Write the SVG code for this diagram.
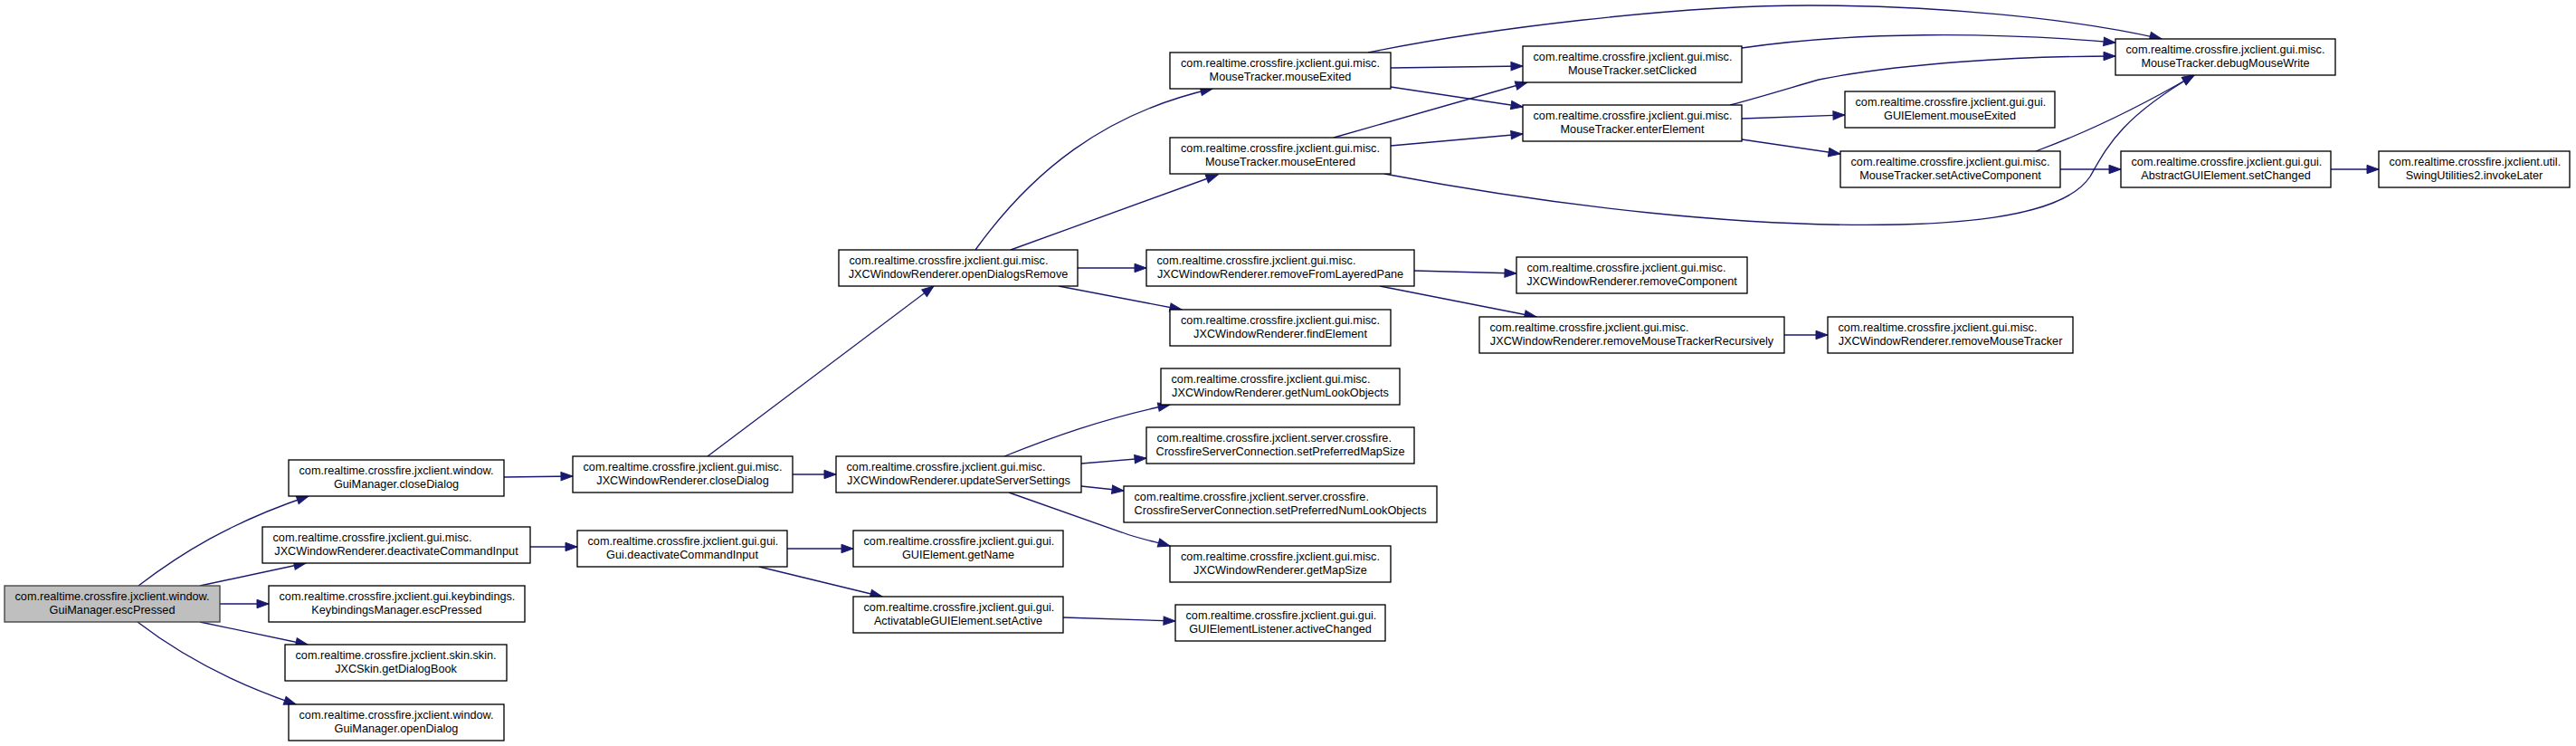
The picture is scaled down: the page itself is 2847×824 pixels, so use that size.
<svg xmlns="http://www.w3.org/2000/svg" width="2847" height="824" viewBox="0 0 2847 824">
<style>
.node rect{fill:#ffffff;stroke:#000000;stroke-width:1.33}
.node.root rect{fill:#bfbfbf;stroke:#404040}
.node text{font-family:"Liberation Sans",Arial,Helvetica,sans-serif;font-size:12.7px;fill:#000000}
.node text.c{text-anchor:middle}
#edges path{fill:none;stroke:#191970;stroke-width:1.33}
</style>
<defs>
<marker id="ah" markerUnits="userSpaceOnUse" markerWidth="15" markerHeight="11" refX="13" refY="5" orient="auto" overflow="visible">
<path d="M0,0.3 L13,5 L0,9.7 z" fill="#191970" stroke="#191970" stroke-width="1"/>
</marker>
</defs>
<rect x="0" y="0" width="2847" height="824" fill="#ffffff"/>
<g id="edges">
<path marker-end="url(#ah)" d="M153,647 C200,611 255,577 341,548"/>
<path marker-end="url(#ah)" d="M221,647 L338,622"/>
<path marker-end="url(#ah)" d="M243,667 L297,667"/>
<path marker-end="url(#ah)" d="M221,687 L340,712"/>
<path marker-end="url(#ah)" d="M152,687 C195,720 250,752 327,778"/>
<path marker-end="url(#ah)" d="M557,527 L633,526"/>
<path marker-end="url(#ah)" d="M586,604 L638,604"/>
<path marker-end="url(#ah)" d="M782,504 L1032,316"/>
<path marker-end="url(#ah)" d="M876,524 L924,524"/>
<path marker-end="url(#ah)" d="M870,606 L943,606"/>
<path marker-end="url(#ah)" d="M839,626 L975,659"/>
<path marker-end="url(#ah)" d="M1175,682 L1299,686"/>
<path marker-end="url(#ah)" d="M1110,504 C1160,484 1220,462 1293,447"/>
<path marker-end="url(#ah)" d="M1195,512 L1267,506"/>
<path marker-end="url(#ah)" d="M1195,537 L1242,542"/>
<path marker-end="url(#ah)" d="M1115,544 L1240,588 C1255,594 1275,598 1293,603"/>
<path marker-end="url(#ah)" d="M1078,276 C1140,190 1220,125 1340,98"/>
<path marker-end="url(#ah)" d="M1117,276 L1346,193"/>
<path marker-end="url(#ah)" d="M1191,296 L1267,296"/>
<path marker-end="url(#ah)" d="M1170,316 L1306,342"/>
<path marker-end="url(#ah)" d="M1512,58 C1640,32 1850,6 2000,6 C2140,6 2290,20 2389,43"/>
<path marker-end="url(#ah)" d="M1537,75 L1683,73"/>
<path marker-end="url(#ah)" d="M1537,96 L1683,118"/>
<path marker-end="url(#ah)" d="M1474,152 L1688,91"/>
<path marker-end="url(#ah)" d="M1537,161 L1683,148"/>
<path marker-end="url(#ah)" d="M1530,192 C1720,228 1930,252 2100,248 C2230,245 2290,225 2310,195 C2330,160 2345,130 2425,83"/>
<path marker-end="url(#ah)" d="M1925,53 C2050,35 2200,35 2338,47"/>
<path marker-end="url(#ah)" d="M1912,116 C1950,106 1985,95 2010,88 C2100,70 2230,62 2338,62"/>
<path marker-end="url(#ah)" d="M1925,131 L2039,127"/>
<path marker-end="url(#ah)" d="M1925,154 L2034,170"/>
<path marker-end="url(#ah)" d="M2250,167 C2310,145 2370,115 2425,83"/>
<path marker-end="url(#ah)" d="M2277,187 L2344,187"/>
<path marker-end="url(#ah)" d="M2576,187 L2629,187"/>
<path marker-end="url(#ah)" d="M1563,299 L1676,302"/>
<path marker-end="url(#ah)" d="M1525,316 L1698,350"/>
<path marker-end="url(#ah)" d="M1972,370 L2020,370"/>
</g>
<g id="n_escPressed" class="node root"><rect x="5" y="647" width="238" height="40"/><text x="16.5" y="663">com.realtime.crossfire.jxclient.window.</text><text class="c" x="124" y="678">GuiManager.escPressed</text></g>
<g id="n_gmCloseDialog" class="node"><rect x="319" y="508" width="238" height="40"/><text x="330.5" y="524">com.realtime.crossfire.jxclient.window.</text><text class="c" x="438" y="539">GuiManager.closeDialog</text></g>
<g id="n_jxcDeactivate" class="node"><rect x="290" y="582" width="296" height="40"/><text x="301.5" y="598">com.realtime.crossfire.jxclient.gui.misc.</text><text class="c" x="438" y="613">JXCWindowRenderer.deactivateCommandInput</text></g>
<g id="n_kbEscPressed" class="node"><rect x="297" y="647" width="283" height="40"/><text x="308.5" y="663">com.realtime.crossfire.jxclient.gui.keybindings.</text><text class="c" x="438.5" y="678">KeybindingsManager.escPressed</text></g>
<g id="n_skinDialogBook" class="node"><rect x="315" y="712" width="245" height="40"/><text x="326.5" y="728">com.realtime.crossfire.jxclient.skin.skin.</text><text class="c" x="437.5" y="743">JXCSkin.getDialogBook</text></g>
<g id="n_gmOpenDialog" class="node"><rect x="319" y="778" width="238" height="40"/><text x="330.5" y="794">com.realtime.crossfire.jxclient.window.</text><text class="c" x="438" y="809">GuiManager.openDialog</text></g>
<g id="n_jxcCloseDialog" class="node"><rect x="633" y="504" width="243" height="40"/><text x="644.5" y="520">com.realtime.crossfire.jxclient.gui.misc.</text><text class="c" x="754.5" y="535">JXCWindowRenderer.closeDialog</text></g>
<g id="n_guiDeactivate" class="node"><rect x="638" y="586" width="232" height="40"/><text x="649.5" y="602">com.realtime.crossfire.jxclient.gui.gui.</text><text class="c" x="754" y="617">Gui.deactivateCommandInput</text></g>
<g id="n_openDialogsRemove" class="node"><rect x="927" y="276" width="264" height="40"/><text x="938.5" y="292">com.realtime.crossfire.jxclient.gui.misc.</text><text class="c" x="1059" y="307">JXCWindowRenderer.openDialogsRemove</text></g>
<g id="n_updateServerSettings" class="node"><rect x="924" y="504" width="271" height="40"/><text x="935.5" y="520">com.realtime.crossfire.jxclient.gui.misc.</text><text class="c" x="1059.5" y="535">JXCWindowRenderer.updateServerSettings</text></g>
<g id="n_getName" class="node"><rect x="943" y="586" width="232" height="40"/><text x="954.5" y="602">com.realtime.crossfire.jxclient.gui.gui.</text><text class="c" x="1059" y="617">GUIElement.getName</text></g>
<g id="n_setActive" class="node"><rect x="943" y="659" width="232" height="40"/><text x="954.5" y="675">com.realtime.crossfire.jxclient.gui.gui.</text><text class="c" x="1059" y="690">ActivatableGUIElement.setActive</text></g>
<g id="n_mouseExited" class="node"><rect x="1293" y="58" width="244" height="40"/><text x="1305" y="74">com.realtime.crossfire.jxclient.gui.misc.</text><text class="c" x="1415" y="89">MouseTracker.mouseExited</text></g>
<g id="n_mouseEntered" class="node"><rect x="1293" y="152" width="244" height="40"/><text x="1305" y="168">com.realtime.crossfire.jxclient.gui.misc.</text><text class="c" x="1415" y="183">MouseTracker.mouseEntered</text></g>
<g id="n_removeFromLayeredPane" class="node"><rect x="1267" y="276" width="296" height="40"/><text x="1278.5" y="292">com.realtime.crossfire.jxclient.gui.misc.</text><text class="c" x="1415" y="307">JXCWindowRenderer.removeFromLayeredPane</text></g>
<g id="n_findElement" class="node"><rect x="1293" y="342" width="244" height="40"/><text x="1305" y="358">com.realtime.crossfire.jxclient.gui.misc.</text><text class="c" x="1415" y="373">JXCWindowRenderer.findElement</text></g>
<g id="n_getNumLookObjects" class="node"><rect x="1283" y="407" width="264" height="40"/><text x="1294.5" y="423">com.realtime.crossfire.jxclient.gui.misc.</text><text class="c" x="1415" y="438">JXCWindowRenderer.getNumLookObjects</text></g>
<g id="n_setPreferredMapSize" class="node"><rect x="1267" y="472" width="296" height="40"/><text x="1278.5" y="488">com.realtime.crossfire.jxclient.server.crossfire.</text><text class="c" x="1415" y="503">CrossfireServerConnection.setPreferredMapSize</text></g>
<g id="n_setPreferredNumLookObjects" class="node"><rect x="1242" y="537" width="346" height="40"/><text x="1253.5" y="553">com.realtime.crossfire.jxclient.server.crossfire.</text><text class="c" x="1415" y="568">CrossfireServerConnection.setPreferredNumLookObjects</text></g>
<g id="n_getMapSize" class="node"><rect x="1293" y="603" width="244" height="40"/><text x="1305" y="619">com.realtime.crossfire.jxclient.gui.misc.</text><text class="c" x="1415" y="634">JXCWindowRenderer.getMapSize</text></g>
<g id="n_activeChanged" class="node"><rect x="1299" y="668" width="232" height="40"/><text x="1310.5" y="684">com.realtime.crossfire.jxclient.gui.gui.</text><text class="c" x="1415" y="699">GUIElementListener.activeChanged</text></g>
<g id="n_setClicked" class="node"><rect x="1683" y="51" width="242" height="40"/><text x="1694.5" y="67">com.realtime.crossfire.jxclient.gui.misc.</text><text class="c" x="1804" y="82">MouseTracker.setClicked</text></g>
<g id="n_enterElement" class="node"><rect x="1683" y="116" width="242" height="40"/><text x="1694.5" y="132">com.realtime.crossfire.jxclient.gui.misc.</text><text class="c" x="1804" y="147">MouseTracker.enterElement</text></g>
<g id="n_removeComponent" class="node"><rect x="1676" y="284" width="255" height="40"/><text x="1687.5" y="300">com.realtime.crossfire.jxclient.gui.misc.</text><text class="c" x="1803.5" y="315">JXCWindowRenderer.removeComponent</text></g>
<g id="n_removeMouseTrackerRecursively" class="node"><rect x="1635" y="350" width="337" height="40"/><text x="1646.5" y="366">com.realtime.crossfire.jxclient.gui.misc.</text><text class="c" x="1803.5" y="381">JXCWindowRenderer.removeMouseTrackerRecursively</text></g>
<g id="n_guiMouseExited" class="node"><rect x="2039" y="101" width="232" height="40"/><text x="2050.5" y="117">com.realtime.crossfire.jxclient.gui.gui.</text><text class="c" x="2155" y="132">GUIElement.mouseExited</text></g>
<g id="n_setActiveComponent" class="node"><rect x="2034" y="167" width="243" height="40"/><text x="2045.5" y="183">com.realtime.crossfire.jxclient.gui.misc.</text><text class="c" x="2155.5" y="198">MouseTracker.setActiveComponent</text></g>
<g id="n_removeMouseTracker" class="node"><rect x="2020" y="350" width="271" height="40"/><text x="2031.5" y="366">com.realtime.crossfire.jxclient.gui.misc.</text><text class="c" x="2155.5" y="381">JXCWindowRenderer.removeMouseTracker</text></g>
<g id="n_debugMouseWrite" class="node"><rect x="2338" y="43" width="243" height="40"/><text x="2349.5" y="59">com.realtime.crossfire.jxclient.gui.misc.</text><text class="c" x="2459.5" y="74">MouseTracker.debugMouseWrite</text></g>
<g id="n_setChanged" class="node"><rect x="2344" y="167" width="232" height="40"/><text x="2355.5" y="183">com.realtime.crossfire.jxclient.gui.gui.</text><text class="c" x="2460" y="198">AbstractGUIElement.setChanged</text></g>
<g id="n_invokeLater" class="node"><rect x="2629" y="167" width="211" height="40"/><text x="2640.5" y="183">com.realtime.crossfire.jxclient.util.</text><text class="c" x="2734.5" y="198">SwingUtilities2.invokeLater</text></g>
</svg>
